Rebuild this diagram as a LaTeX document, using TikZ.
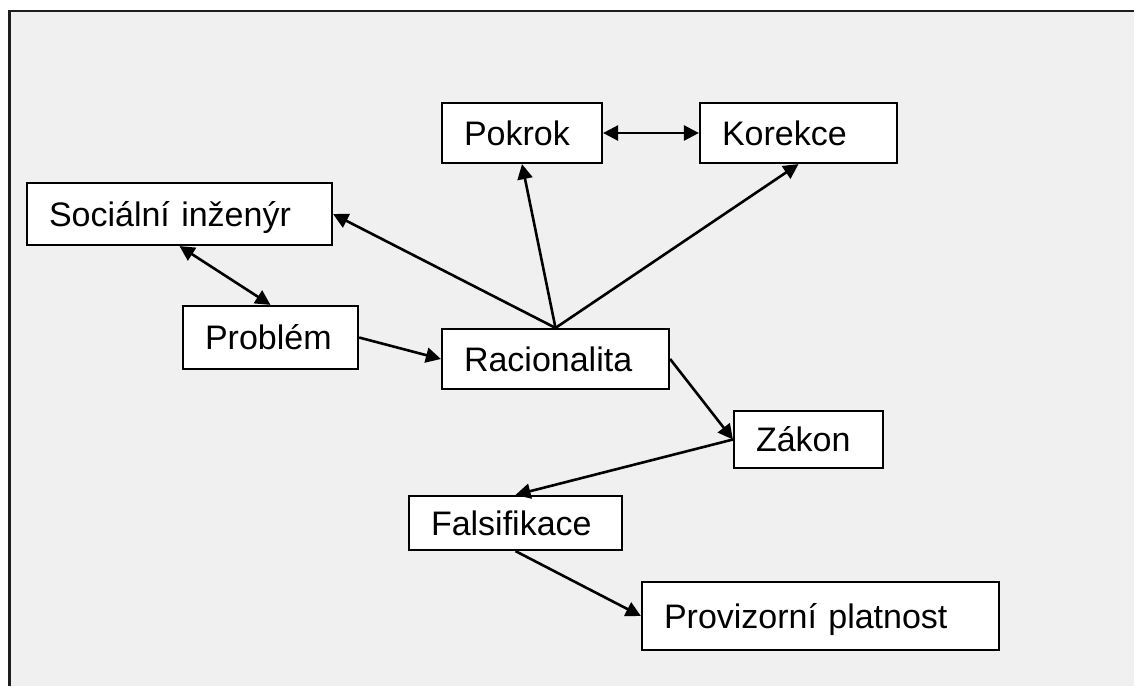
\documentclass[tikz,border=0pt]{standalone}
\usepackage{fontspec}
\setmainfont{Liberation Sans}
\usetikzlibrary{arrows.meta}
\definecolor{panel}{HTML}{F0F0F0}
\definecolor{frameline}{HTML}{1E1E1E}
\begin{document}
\begin{tikzpicture}[x=1pt,y=-1pt,
  box/.style={draw, line width=2.2pt, fill=white, inner xsep=22pt, inner ysep=0pt,
    align=left, text height=24pt, text depth=0pt,
    font=\fontsize{34}{40}\selectfont},
  tip/.tip={Triangle[length=15pt,width=15pt]},
  link/.style={line width=2.6pt, -tip},
  biglink/.style={line width=2.6pt, tip-tip}]
\useasboundingbox (0,0) rectangle (1134,686);
% page and framed panel
\fill[white] (0,0) rectangle (1134,686);
\fill[panel] (10,11) rectangle (1134,686);
\draw[frameline, line width=2.6pt] (9.5,686) -- (9.5,11) -- (1134,11);

% concept boxes
\node[box, text width=116pt, minimum height=60pt] (pokrok) at (522,133) {Pokrok};
\node[box, text width=153pt, minimum height=60pt] (korekce) at (798.5,133) {Korekce};
\node[box, text width=261pt, minimum height=62pt] (social) at (179.5,214) {Sociální inženýr};
\node[box, text width=131pt, minimum height=63pt] (problem) at (270.5,337.5) {Problém};
\node[box, text width=183pt, minimum height=60pt] (racio) at (555.5,359) {Racionalita};
\node[box, text width=105pt, minimum height=57pt] (zakon) at (808.5,439.5) {Zákon};
\node[box, text width=169pt, minimum height=54pt] (falsi) at (515.5,523) {Falsifikace};
\node[box, text width=313pt, minimum height=68pt] (proviz) at (820.5,616) {Provizorní platnost};

% relations
\draw[biglink] (pokrok.east) -- (korekce.west);
\draw[link] (racio.north) -- (pokrok.south);
\draw[link] (racio.north) -- (korekce.south);
\draw[link] (racio.north) -- (social.east);
\draw[biglink] (social.south) -- (problem.north);
\draw[link] (problem.east) -- (racio.west);
\draw[link] (racio.east) -- (zakon.west);
\draw[link] (zakon.west) -- (falsi.north);
\draw[link] (falsi.south) -- (proviz.west);
\end{tikzpicture}
\end{document}
